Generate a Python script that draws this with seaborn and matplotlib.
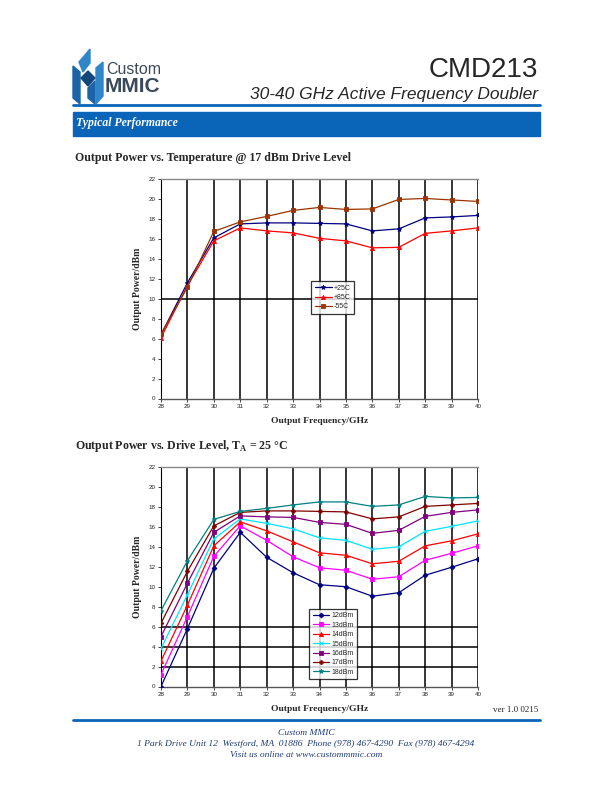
"""
CMD213 datasheet page: output power vs temperature and vs drive level.
"""

import numpy as np
import pandas as pd
import matplotlib
matplotlib.use("Agg")
import matplotlib.pyplot as plt
from matplotlib.patches import Polygon, Rectangle
import seaborn as sns

freq = [28, 29, 30, 31, 32, 33, 34, 35, 36, 37, 38, 39, 40]

temp_labels = ["+25C", "+85C", "-55C"]
temp_25 = [6.4, 11.6, 16.1, 17.5, 17.6, 17.6, 17.55, 17.5, 16.8, 17.0, 18.1, 18.2, 18.35]
temp_85 = [6.1, 11.3, 15.8, 17.1, 16.8, 16.6, 16.05, 15.8, 15.1, 15.15, 16.55, 16.8, 17.1]
temp_m55 = [6.45, 11.15, 16.75, 17.7, 18.25, 18.85, 19.15, 18.95, 19.0, 19.95, 20.05, 19.9, 19.75]

drive_labels = ["12dBm", "13dBm", "14dBm", "15dBm", "16dBm", "17dBm", "18dBm"]
drive_12 = [0.0, 5.8, 11.85, 15.45, 12.95, 11.4, 10.2, 10.0, 9.05, 9.4, 11.15, 11.95, 12.8]
drive_13 = [1.2, 7.0, 13.05, 16.1, 14.65, 13.0, 11.9, 11.65, 10.75, 11.0, 12.65, 13.35, 14.1]
drive_14 = [2.55, 8.15, 14.1, 16.5, 15.6, 14.5, 13.4, 13.15, 12.3, 12.55, 14.1, 14.6, 15.3]
drive_15 = [3.8, 9.2, 14.8, 16.8, 16.35, 15.8, 14.9, 14.65, 13.75, 14.0, 15.55, 16.05, 16.6]
drive_16 = [5.0, 10.35, 15.45, 17.1, 17.0, 16.95, 16.45, 16.25, 15.35, 15.65, 17.05, 17.45, 17.7]
drive_17 = [6.35, 11.55, 16.1, 17.45, 17.6, 17.6, 17.55, 17.5, 16.8, 17.0, 18.05, 18.2, 18.35]
drive_18 = [7.6, 12.6, 16.75, 17.55, 17.85, 18.2, 18.5, 18.5, 18.05, 18.2, 19.05, 18.9, 18.95]

W, H = 612, 792
BLUE = "#0a64b8"
SERIF = "Liberation Serif"
SANS = "Liberation Sans"

sns.set_style("white")
plt.rcParams["font.family"] = [SANS, "DejaVu Sans"]
plt.rcParams["mathtext.fontset"] = "custom"
plt.rcParams["mathtext.rm"] = "Liberation Serif:bold"
plt.rcParams["mathtext.bf"] = "Liberation Serif:bold"


def fx(x):
    return x / W


def fy(y):
    return 1 - y / H


def make_axes(fig, left, top, right, bottom):
    return fig.add_axes([fx(left), fy(bottom), fx(right - left), (bottom - top) / H])


def style_chart(ax, hlines):
    ax.set_xlim(28, 40)
    ax.set_ylim(0, 22)
    ax.set_xticks(freq)
    ax.set_yticks(np.arange(0, 23, 2))
    ax.tick_params(axis="both", labelsize=4.5, length=2, width=0.6,
                   direction="out", pad=2, bottom=True, left=True)
    for t in ax.get_xticklabels() + ax.get_yticklabels():
        t.set_fontfamily(SANS)
    for x in freq[1:]:
        ax.axvline(x, color="black", lw=1.1, zorder=0)
    for y in hlines:
        ax.axhline(y, color="black", lw=1.1, zorder=0)
    ax.spines["top"].set_color("#888888")
    ax.spines["top"].set_linewidth(1.0)
    ax.spines["right"].set_visible(False)
    ax.spines["left"].set_color("black")
    ax.spines["left"].set_linewidth(0.8)
    ax.spines["bottom"].set_color("#555555")
    ax.spines["bottom"].set_linewidth(1.0)
    ax.set_xlabel("Output Frequency/GHz", fontfamily=SERIF, fontweight="bold",
                  fontsize=6.8, labelpad=6)
    ax.set_ylabel("Output Power/dBm", fontfamily=SERIF, fontweight="bold",
                  fontsize=7, labelpad=5)


def draw_series(ax, series, labels, colors, markers, sizes):
    for vals, lab, col, mk, ms in zip(series, labels, colors, markers, sizes):
        df = pd.DataFrame({"freq": freq, "power": vals})
        sns.lineplot(data=df, x="freq", y="power", ax=ax, color=col, lw=0.9,
                     marker=mk, markersize=ms, markeredgecolor=col,
                     markeredgewidth=0.6, label=lab, zorder=3)


def place_legend(ax, left, top, right, bottom):
    leg = ax.legend(loc="center", bbox_to_anchor=(fx((left + right) / 2), fy((top + bottom) / 2)),
                    bbox_transform=ax.figure.transFigure, fontsize=5, frameon=True,
                    fancybox=False, edgecolor="black", handlelength=2.4,
                    handletextpad=0.3, labelspacing=0.35, borderpad=0.5,
                    borderaxespad=0)
    leg.get_frame().set_linewidth(0.9)
    for t in leg.get_texts():
        t.set_fontfamily(SANS)


fig = plt.figure(figsize=(W / 100, H / 100), dpi=100)

# page decoration layer in pixel coordinates
page = fig.add_axes([0, 0, 1, 1], zorder=-1)
page.set_xlim(0, W)
page.set_ylim(H, 0)
page.axis("off")

# logo
page.add_patch(Polygon([(79, 62), (90, 49), (90, 63), (83, 72)], color="#2f86c8"))
page.add_patch(Polygon([(73, 66), (80, 72), (80, 104), (73, 98)], color="#1b64a8"))
page.add_patch(Polygon([(81, 78), (88, 71), (95, 78), (88, 86)], color="#12477a"))
page.add_patch(Polygon([(88, 88), (95, 81), (95, 104), (88, 98)], color="#1b64a8"))
page.add_patch(Polygon([(96, 68), (103, 62), (103, 96), (96, 104)], color="#2f86c8"))
page.text(106, 69, "Custom", fontsize=11.5, color="#3a4a5a", fontfamily=SANS,
          va="center", ha="left")
page.text(105, 87, "MMIC", fontsize=15, color="#3a4a5a", fontfamily=SANS,
          fontweight="bold", va="center", ha="left")

page.text(538, 70, "CMD213", fontsize=20, fontfamily=SANS, ha="right", va="center")
page.text(538, 95, "30-40 GHz Active Frequency Doubler", fontsize=12.5,
          fontfamily=SANS, style="italic", ha="right", va="center")
page.plot([73, 540], [105, 105], color=BLUE, lw=2)
page.add_patch(Rectangle((73, 112), 467, 24, color=BLUE))
page.text(76, 123, "Typical Performance", fontsize=8.5, fontfamily=SERIF,
          style="italic", fontweight="bold", color="white", va="center")

page.text(75, 158, "Output Power vs. Temperature @ 17 dBm Drive Level",
          fontsize=8.6, fontfamily=SERIF, fontweight="bold", va="center")
page.text(75, 446, "Output Power vs. Drive Level, T$_\\mathbf{A}$ = 25 °C",
          fontsize=8.6, fontfamily=SERIF, fontweight="bold", va="center")

page.text(538, 710, "ver 1.0 0215", fontsize=6.5, fontfamily=SERIF,
          ha="right", va="center")
page.plot([73, 540], [720, 720], color=BLUE, lw=2)
foot = "#1f3c78"
page.text(306, 733, "Custom MMIC", fontsize=6.8, fontfamily=SERIF,
          style="italic", color=foot, ha="center", va="center")
page.text(306, 744, "1 Park Drive Unit 12  Westford, MA  01886  Phone (978) 467-4290  Fax (978) 467-4294",
          fontsize=6.8, fontfamily=SERIF, style="italic", color=foot,
          ha="center", va="center")
page.text(306, 755, "Visit us online at www.custommmic.com", fontsize=6.8,
          fontfamily=SERIF, style="italic", color=foot, ha="center", va="center")

# chart 1: temperature
ax1 = make_axes(fig, 161, 179, 478, 398.5)
draw_series(ax1, [temp_25, temp_85, temp_m55], temp_labels,
            ["#000080", "#ff0000", "#993300"], ["*", "^", "s"], [3.5, 3, 3])
style_chart(ax1, [10])
place_legend(ax1, 306.5, 280, 359, 315)

# chart 2: drive level
ax2 = make_axes(fig, 161, 467, 478, 686.5)
draw_series(ax2, [drive_12, drive_13, drive_14, drive_15, drive_16, drive_17, drive_18],
            drive_labels,
            ["#000080", "#ff00ff", "#ff0000", "#00e5ff", "#800080", "#800000", "#008080"],
            ["D", "s", "^", "x", "s", "P", "*"], [2.5, 3, 3, 3, 3.2, 2.8, 3.5])
style_chart(ax2, [2, 4, 6])
place_legend(ax2, 306, 615, 360.5, 673)

fig.savefig("out.png", dpi=100)
